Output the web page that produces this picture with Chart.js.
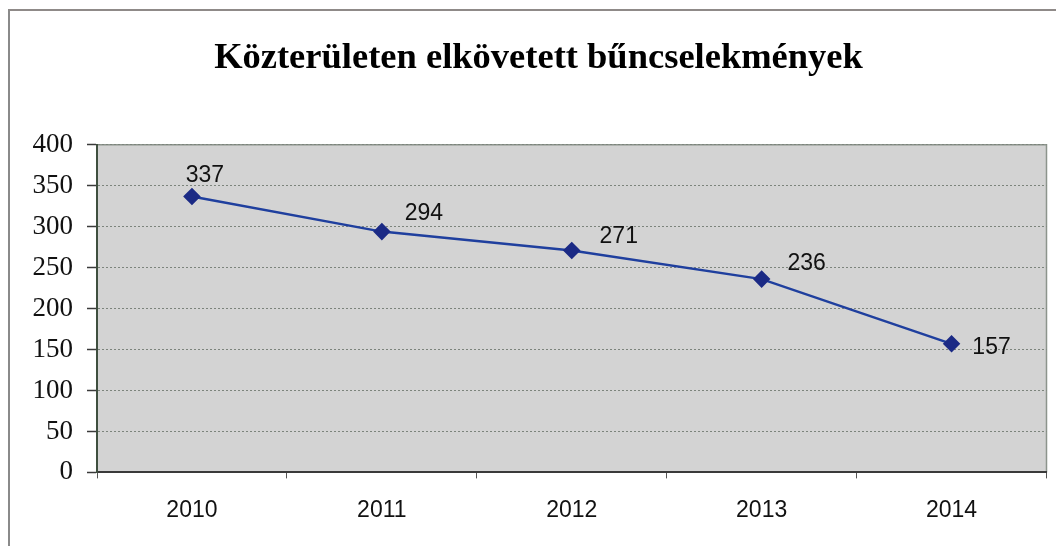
<!DOCTYPE html>
<html>
<head>
<meta charset="utf-8">
<script src="https://cdn.jsdelivr.net/npm/chart.js@4.4.1/dist/chart.umd.min.js"></script>
<style>
  html, body { margin: 0; padding: 0; background: #fff; }
  #wrap { position: relative; width: 1056px; height: 546px; }
  #frame {
    position: absolute; left: 8px; top: 9px; right: 0; bottom: 0;
    border-left: 2px solid #8a8a8a; border-top: 2px solid #8f8a88;
    pointer-events: none;
  }
  canvas { position: absolute; left: 0; top: 0; }
</style>
</head>
<body>
<div id="wrap">
  <canvas id="chart" width="1056" height="546"></canvas>
  <div id="frame"></div>
</div>
<script>
// Adatok
const years = ['2010', '2011', '2012', '2013', '2014'];
const crimes = [337, 294, 271, 236, 157];
const yTicks = [0, 50, 100, 150, 200, 250, 300, 350, 400];

// Címkék eltolása a ponthoz képest (px)
const labelOffsets = [[13, -21], [42, -18], [47, -14], [45, -15], [40, 4]];

// Szürke rajzterület + keret
const plotBackground = {
    id: 'plotBackground',
    beforeDraw(chart) {
        const {ctx, chartArea: a} = chart;
        ctx.save();
        ctx.fillStyle = '#d3d3d3';
        ctx.fillRect(a.left, a.top, a.right - a.left, a.bottom - a.top);
        ctx.strokeStyle = '#8c948c';
        ctx.lineWidth = 1.5;
        ctx.beginPath();
        ctx.moveTo(a.left, a.top);
        ctx.lineTo(a.right, a.top);
        ctx.lineTo(a.right, a.bottom);
        ctx.stroke();
        ctx.restore();
    }
};

// Adatfeliratok
const valueLabels = {
    id: 'valueLabels',
    afterDatasetsDraw(chart) {
        const {ctx} = chart;
        const meta = chart.getDatasetMeta(0);
        ctx.save();
        ctx.font = '23px "Liberation Sans", Arial, sans-serif';
        ctx.fillStyle = '#111';
        ctx.textAlign = 'center';
        ctx.textBaseline = 'middle';
        meta.data.forEach((pt, i) => {
            const [dx, dy] = labelOffsets[i];
            ctx.fillText(String(crimes[i]), pt.x + dx, pt.y + dy);
        });
        ctx.restore();
    }
};

new Chart(document.getElementById('chart'), {
    type: 'line',
    data: {
        labels: years,
        datasets: [{
            data: crimes,
            borderColor: '#1f3f9e',
            borderWidth: 2.5,
            pointStyle: 'rectRot',
            pointRadius: 7,
            pointBackgroundColor: '#1b2a85',
            pointBorderColor: '#1b2a85',
            tension: 0
        }]
    },
    options: {
        responsive: false,
        animation: false,
        layout: { padding: { top: 0, right: 5, bottom: 4, left: 26 } },
        plugins: {
            legend: { display: false },
            tooltip: { enabled: false },
            title: {
                display: true,
                text: 'Közterületen elkövetett bűncselekmények',
                color: '#000',
                font: { family: '"Liberation Serif", "Times New Roman", serif', size: 36.5, weight: 'bold' },
                padding: { top: 37, bottom: 64 }
            }
        },
        scales: {
            x: {
                offset: true,
                grid: {
                    offset: true,
                    drawOnChartArea: false,
                    drawTicks: true,
                    tickLength: 6,
                    color: '#555'
                },
                border: { color: '#3a3a3a', width: 2, dash: [2, 1] },
                ticks: {
                    color: '#111',
                    padding: 18,
                    font: { family: '"Liberation Sans", Arial, sans-serif', size: 23 }
                }
            },
            y: {
                min: 0,
                max: 400,
                afterFit(scale) { scale.width = 71; },
                afterBuildTicks(scale) { scale.ticks = yTicks.map(v => ({value: v})); },
                grid: {
                    color: '#7c847c',
                    lineWidth: 1,
                    tickLength: 10,
                    tickColor: '#3a3a3a',
                    tickWidth: 1.5,
                    tickBorderDash: []
                },
                border: { color: '#3f4f3f', width: 2, dash: [2, 2] },
                ticks: {
                    color: '#111',
                    padding: 14,
                    font: { family: '"Liberation Serif", "Times New Roman", serif', size: 27 }
                }
            }
        }
    },
    plugins: [plotBackground, valueLabels]
});
</script>
</body>
</html>
